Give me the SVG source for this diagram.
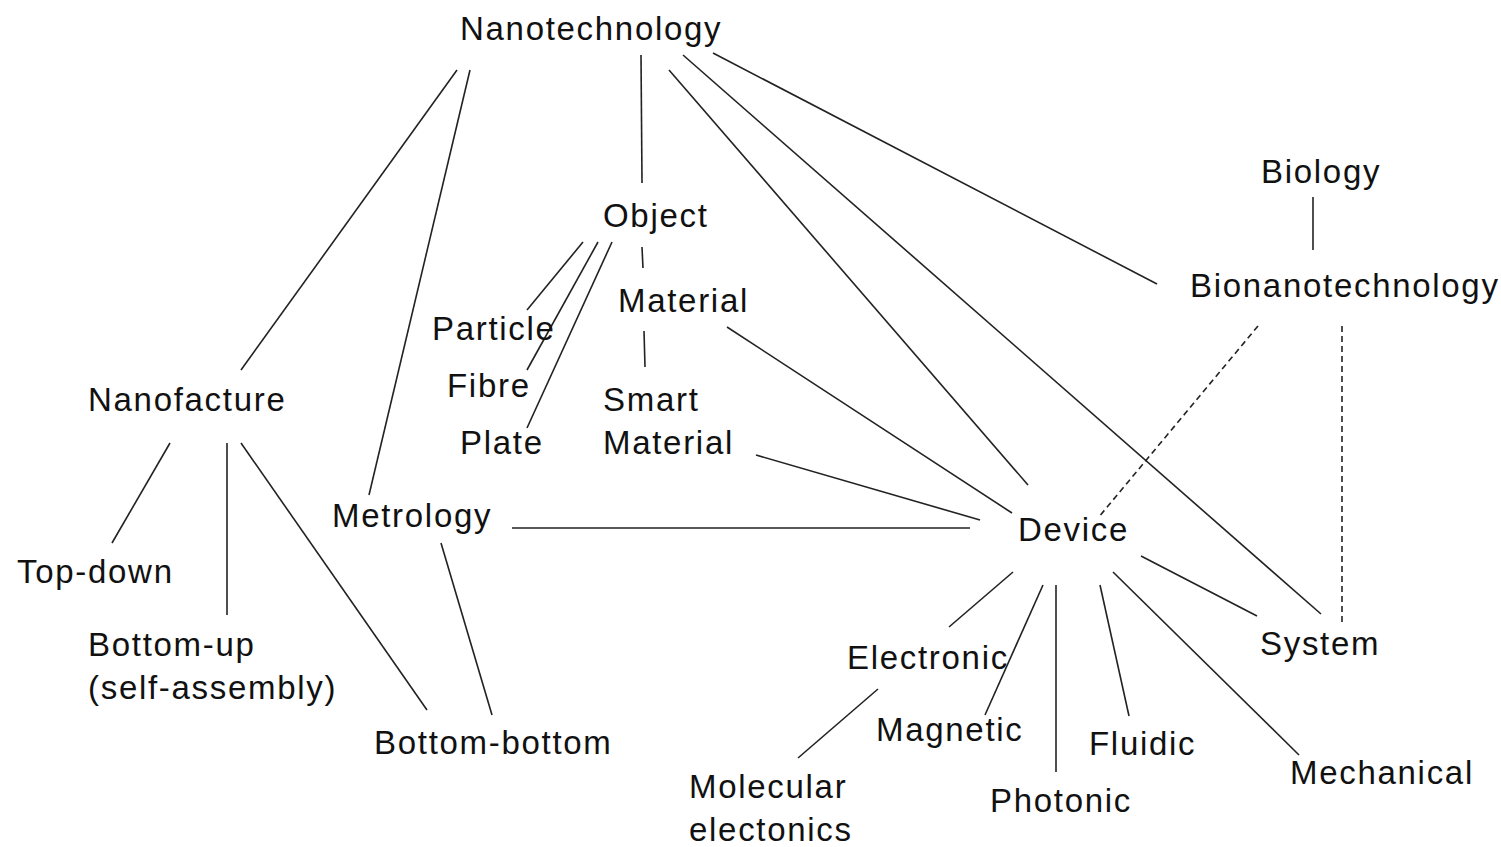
<svg xmlns="http://www.w3.org/2000/svg" width="1501" height="847" viewBox="0 0 1501 847">
<style>
text{font-family:"Liberation Sans",Arial,sans-serif;font-size:33px;letter-spacing:1.7px;fill:#111}
.c line{stroke:#222;stroke-width:1.6;fill:none}
.c line.d{stroke-dasharray:6 4}
</style>
<rect width="1501" height="847" fill="#fff"/>
<g class="c" id="connectors">
<line x1="457" y1="70" x2="241" y2="370"/>
<line x1="470" y1="70" x2="369" y2="495"/>
<line x1="641" y1="55" x2="642" y2="183"/>
<line x1="669" y1="70" x2="1028" y2="485"/>
<line x1="683" y1="55" x2="1321" y2="614"/>
<line x1="713" y1="53" x2="1157" y2="284"/>
<line x1="583" y1="242" x2="527" y2="310"/>
<line x1="598" y1="242" x2="527" y2="370"/>
<line x1="612" y1="242" x2="527" y2="428"/>
<line x1="642" y1="247" x2="643" y2="268"/>
<line x1="644" y1="331" x2="645" y2="367"/>
<line x1="727" y1="327" x2="1012" y2="513"/>
<line x1="756" y1="455" x2="980" y2="520"/>
<line x1="512" y1="528" x2="970" y2="528"/>
<line x1="441" y1="543" x2="492" y2="715"/>
<line x1="170" y1="443" x2="112" y2="543"/>
<line x1="227" y1="443" x2="227" y2="615"/>
<line x1="241" y1="443" x2="427" y2="710"/>
<line x1="1013" y1="572" x2="949" y2="627"/>
<line x1="1043" y1="585" x2="985" y2="715"/>
<line x1="1056" y1="585" x2="1056" y2="772"/>
<line x1="1100" y1="585" x2="1129" y2="716"/>
<line x1="1113" y1="572" x2="1299" y2="755"/>
<line x1="1141" y1="556" x2="1257" y2="616"/>
<line x1="878" y1="689" x2="798" y2="758"/>
<line x1="1313" y1="197" x2="1313" y2="250"/>
<line class="d" x1="1258" y1="326" x2="1098" y2="518"/>
<line class="d" x1="1342" y1="326" x2="1342" y2="626"/>
</g>
<g id="nanotechnology"><text x="460" y="40">Nanotechnology</text></g>
<g id="object"><text x="603" y="227">Object</text></g>
<g id="material"><text x="618" y="312">Material</text></g>
<g id="particle"><text x="432" y="340">Particle</text></g>
<g id="fibre"><text x="447" y="397">Fibre</text></g>
<g id="plate"><text x="460" y="454">Plate</text></g>
<g id="smart-material"><text x="603" y="411">Smart</text><text x="603" y="454">Material</text></g>
<g id="nanofacture"><text x="88" y="411">Nanofacture</text></g>
<g id="top-down"><text x="17" y="583">Top-down</text></g>
<g id="bottom-up"><text x="88" y="656">Bottom-up</text><text x="88" y="699">(self-assembly)</text></g>
<g id="metrology"><text x="332" y="527">Metrology</text></g>
<g id="bottom-bottom"><text x="374" y="754">Bottom-bottom</text></g>
<g id="device"><text x="1018" y="541">Device</text></g>
<g id="electronic"><text x="847" y="669">Electronic</text></g>
<g id="magnetic"><text x="876" y="741">Magnetic</text></g>
<g id="molecular-electonics"><text x="689" y="798">Molecular</text><text x="689" y="841">electonics</text></g>
<g id="photonic"><text x="990" y="812">Photonic</text></g>
<g id="fluidic"><text x="1089" y="755">Fluidic</text></g>
<g id="mechanical"><text x="1290" y="784">Mechanical</text></g>
<g id="system"><text x="1260" y="655">System</text></g>
<g id="biology"><text x="1261" y="183">Biology</text></g>
<g id="bionanotechnology"><text x="1190" y="297">Bionanotechnology</text></g>
</svg>
